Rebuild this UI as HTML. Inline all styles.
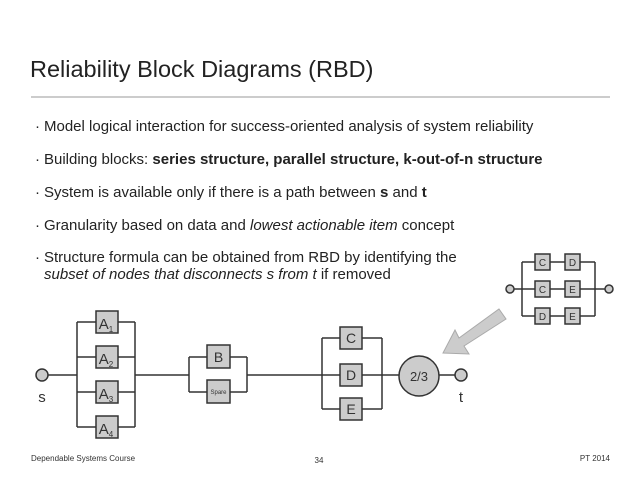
<!DOCTYPE html>
<html><head><meta charset="utf-8"><style>
html,body{margin:0;padding:0;background:#fff;}
svg{display:block;font-family:"Liberation Sans",Helvetica,Arial,sans-serif;}
</style></head><body>
<svg width="638" height="479" viewBox="0 0 638 479" xmlns="http://www.w3.org/2000/svg">
<text x="30" y="77" font-size="23.5" fill="#222">Reliability Block Diagrams (RBD)</text>
<line x1="31" y1="97" x2="610" y2="97" stroke="#999" stroke-width="1"/>
<g font-size="15" fill="#222">
<text x="35" y="131">· <tspan x="44">Model logical interaction for success-oriented analysis of system reliability</tspan></text>
<text x="35" y="164">· <tspan x="44">Building blocks: </tspan><tspan font-weight="bold">series structure, parallel structure, k-out-of-n structure</tspan></text>
<text x="35" y="197">· <tspan x="44">System is available only if there is a path between </tspan><tspan font-weight="bold">s</tspan> and <tspan font-weight="bold">t</tspan></text>
<text x="35" y="230">· <tspan x="44">Granularity based on data and </tspan><tspan font-style="italic">lowest actionable item</tspan> concept</text>
<text x="35" y="262">· <tspan x="44">Structure formula can be obtained from RBD by identifying the</tspan></text>
<text x="44" y="279" font-style="italic">subset of nodes that disconnects s from t <tspan font-style="normal">if removed</tspan></text>
</g>
<g stroke="#333" stroke-width="1.5" fill="none">
<line x1="48" y1="375" x2="77" y2="375"/>
<line x1="77" y1="322" x2="77" y2="427"/>
<line x1="135" y1="322" x2="135" y2="427"/>
<line x1="77" y1="322" x2="135" y2="322"/><line x1="77" y1="357" x2="135" y2="357"/>
<line x1="77" y1="392" x2="135" y2="392"/><line x1="77" y1="427" x2="135" y2="427"/>
<line x1="135" y1="375" x2="189" y2="375"/>
<line x1="189" y1="357" x2="189" y2="392"/><line x1="247" y1="357" x2="247" y2="392"/>
<line x1="189" y1="357" x2="247" y2="357"/><line x1="189" y1="392" x2="247" y2="392"/>
<line x1="247" y1="375" x2="399" y2="375"/>
<line x1="322" y1="338" x2="322" y2="409"/><line x1="382" y1="338" x2="382" y2="409"/>
<line x1="322" y1="338" x2="382" y2="338"/><line x1="322" y1="409" x2="382" y2="409"/>
<line x1="439" y1="375" x2="455" y2="375"/>
<line x1="514" y1="289" x2="605" y2="289"/>
<line x1="522" y1="262" x2="522" y2="316"/><line x1="595" y1="262" x2="595" y2="316"/>
<line x1="522" y1="262" x2="595" y2="262"/><line x1="522" y1="316" x2="595" y2="316"/>
</g>
<g fill="#ccc" stroke="#333" stroke-width="1.5">
<circle cx="42" cy="375" r="6"/>
<circle cx="461" cy="375" r="6"/>
<circle cx="419" cy="376" r="20"/>
<rect x="96" y="311" width="22" height="22"/><rect x="96" y="346" width="22" height="22"/>
<rect x="96" y="381" width="22" height="22"/><rect x="96" y="416" width="22" height="22"/>
<rect x="207" y="345" width="23" height="23"/><rect x="207" y="380" width="23" height="23"/>
<rect x="340" y="327" width="22" height="22"/><rect x="340" y="364" width="22" height="22"/>
<rect x="340" y="398" width="22" height="22"/>
<circle cx="510" cy="289" r="4"/><circle cx="609" cy="289" r="4"/>
<rect x="535" y="254" width="15" height="16"/><rect x="565" y="254" width="15" height="16"/>
<rect x="535" y="281" width="15" height="16"/><rect x="565" y="281" width="15" height="16"/>
<rect x="535" y="308" width="15" height="16"/><rect x="565" y="308" width="15" height="16"/>
</g>
<polygon points="499,309 506,319 464,346 469,354 443,353 455,330 459,338" fill="#ccc" stroke="#aaa" stroke-width="1"/>
<g fill="#333" text-anchor="middle">
<text x="106" y="329" font-size="15">A<tspan font-size="8" dy="3">1</tspan></text>
<text x="106" y="364" font-size="15">A<tspan font-size="8" dy="3">2</tspan></text>
<text x="106" y="399" font-size="15">A<tspan font-size="8" dy="3">3</tspan></text>
<text x="106" y="434" font-size="15">A<tspan font-size="8" dy="3">4</tspan></text>
<text x="218.5" y="362" font-size="14">B</text>
<text x="218.5" y="394" font-size="6">Spare</text>
<text x="351" y="343" font-size="14">C</text>
<text x="351" y="380" font-size="14">D</text>
<text x="351" y="414" font-size="14">E</text>
<text x="419" y="381" font-size="13">2/3</text>
<text x="42" y="402" font-size="15">s</text>
<text x="461" y="402" font-size="15">t</text>
<g font-size="10">
<text x="542.5" y="266">C</text><text x="572.5" y="266">D</text>
<text x="542.5" y="293">C</text><text x="572.5" y="293">E</text>
<text x="542.5" y="320">D</text><text x="572.5" y="320">E</text>
</g>
</g>
<g font-size="8" fill="#333">
<text x="31" y="461">Dependable Systems Course</text>
<text x="319" y="463" text-anchor="middle">34</text>
<text x="610" y="461" text-anchor="end">PT 2014</text>
</g>
</svg>
</body></html>
